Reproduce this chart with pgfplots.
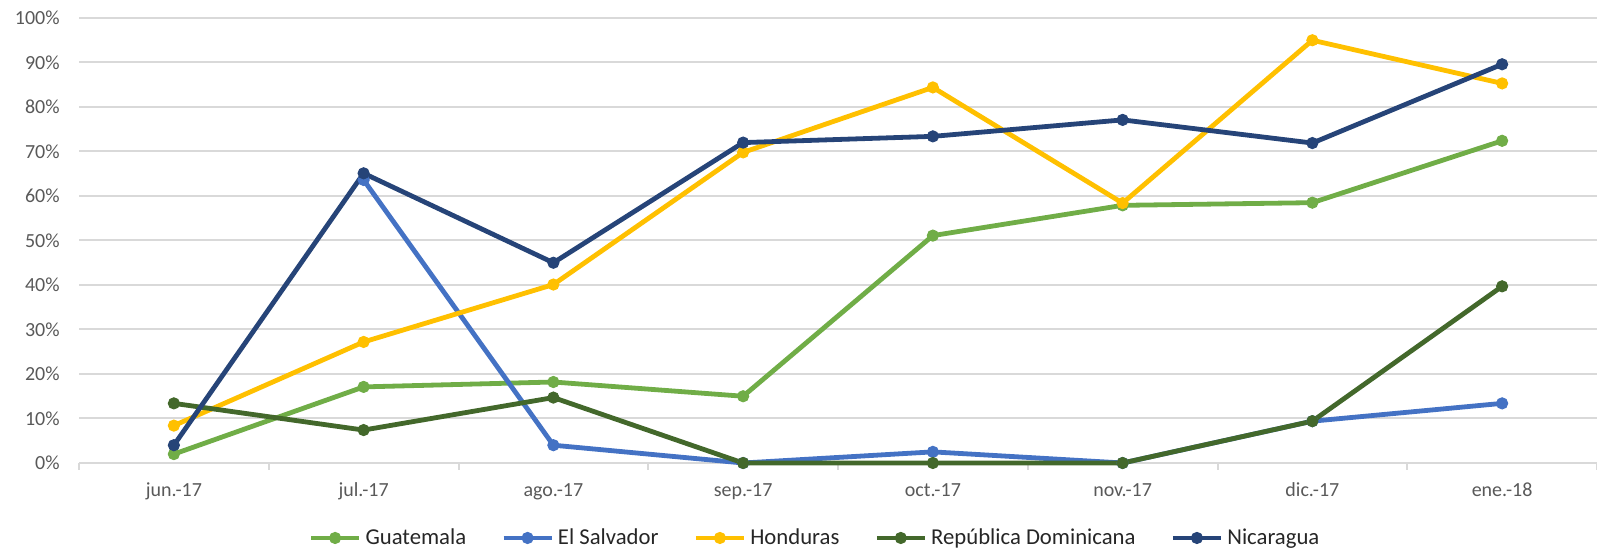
\documentclass[border=0pt]{standalone}
\usepackage{fontspec}
\setmainfont{Carlito}
\usepackage{pgfplots}
\pgfplotsset{compat=1.18}
\definecolor{cGua}{HTML}{70AD47}
\definecolor{cSal}{HTML}{4472C4}
\definecolor{cHon}{HTML}{FFC000}
\definecolor{cRD}{HTML}{43682B}
\definecolor{cNic}{HTML}{264478}
\definecolor{gridgray}{HTML}{D9D9D9}
\definecolor{tickgray}{HTML}{595959}
\definecolor{legtext}{HTML}{262626}
\begin{document}
\begin{tikzpicture}
\useasboundingbox (0,0) rectangle (798.5pt,275.5pt);
\begin{axis}[
  at={(39.5pt,44pt)}, anchor=south west,
  width=759pt, height=222.5pt, scale only axis,
  xmin=-0.5, xmax=7.5, ymin=0, ymax=100,
  clip=false,
  axis line style={draw=none},
  xtick={0,...,7},
  xticklabels={jun.-17, jul.-17, ago.-17, sep.-17, oct.-17, nov.-17, dic.-17, ene.-18},
  minor xtick={-0.5,0.5,1.5,2.5,3.5,4.5,5.5,6.5,7.5},
  xtick pos=bottom, tick align=outside,
  major tick length=0pt,
  minor tick length=3.5pt,
  minor tick style={draw=gridgray, line width=1pt},
  ytick={0,10,20,30,40,50,60,70,80,90,100},
  yticklabels={0\%,10\%,20\%,30\%,40\%,50\%,60\%,70\%,80\%,90\%,100\%},
  ytick style={draw=none},
  ymajorgrids, grid style={gridgray, line width=1pt},
  tick label style={font=\fontsize{10}{12}\selectfont, text=tickgray},
  yticklabel style={anchor=east, inner sep=0pt, xshift=-9.5pt},
  xticklabel style={anchor=base, inner sep=0pt, yshift=-17pt},
  legend columns=5,
  legend style={at={(0.4842,-0.1685)}, anchor=center, draw=none, fill=none,
    font=\fontsize{11.35}{13}\selectfont, text=legtext, inner sep=0pt,
    nodes={inner sep=0pt},
    /tikz/every odd column/.append style={column sep=2pt},
    /tikz/every even column/.append style={column sep=17.5pt}},
  legend image code/.code={\draw[#1, mark repeat=2, mark phase=2] plot coordinates {(0pt,0pt) (12pt,0pt) (24pt,0pt)};},
  every axis plot/.append style={line width=2.4pt, mark=*, mark size=2.8pt, mark options={solid, line width=0.5pt}},
]
\addplot[cGua] coordinates {(0,2.0) (1,17.1) (2,18.2) (3,15.0) (4,51.1) (5,57.9) (6,58.5) (7,72.4)};
\addlegendentry{Guatemala}
\addplot[cSal] coordinates {(1,63.6) (2,4.0) (3,0) (4,2.5) (5,0) (6,9.4) (7,13.4)};
\addlegendentry{El Salvador}
\addplot[cHon] coordinates {(0,8.4) (1,27.2) (2,40.1) (3,69.8) (4,84.4) (5,58.4) (6,95.0) (7,85.3)};
\addlegendentry{Honduras}
\addplot[cRD] coordinates {(0,13.4) (1,7.4) (2,14.7) (3,0) (4,0) (5,0) (6,9.4) (7,39.7)};
\addlegendentry{República Dominicana}
\addplot[cNic] coordinates {(0,4.0) (1,65.1) (2,45.0) (3,72.0) (4,73.4) (5,77.1) (6,71.9) (7,89.6)};
\addlegendentry{Nicaragua}
\end{axis}
\end{tikzpicture}
\end{document}
